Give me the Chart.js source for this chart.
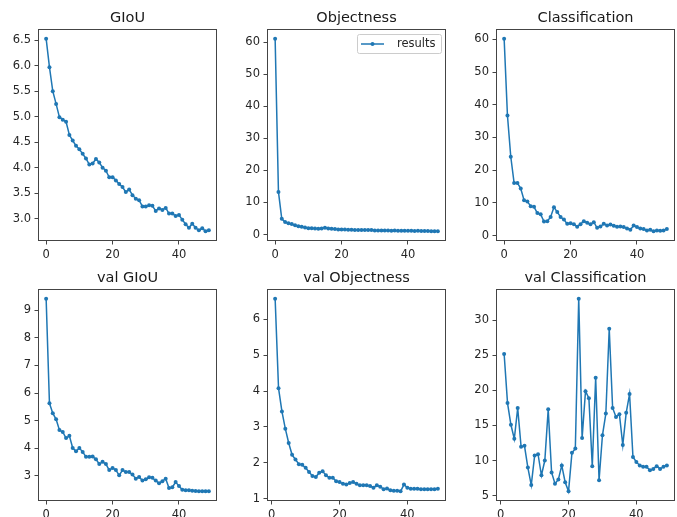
<!DOCTYPE html>
<html><head><meta charset="utf-8">
<script src="https://cdn.jsdelivr.net/npm/chart.js@4"></script>
<style>
html,body{margin:0;padding:0;background:#fff;overflow:hidden;width:677px;height:517px;position:relative}
canvas{position:absolute}
</style></head><body>
<canvas id="c0" width="219" height="262" style="left:0px;top:0px"></canvas>
<canvas id="c1" width="219" height="262" style="left:229px;top:0px"></canvas>
<canvas id="c2" width="219" height="262" style="left:458px;top:0px"></canvas>
<canvas id="c3" width="219" height="262" style="left:0px;top:260px"></canvas>
<canvas id="c4" width="219" height="262" style="left:229px;top:260px"></canvas>
<canvas id="c5" width="219" height="262" style="left:458px;top:260px"></canvas>
<script>
const panelTitles = ['GIoU','Objectness','Classification','val GIoU','val Objectness','val Classification'];
const seriesLabel = 'results';

const trainEpochs = [0,1,2,3,4,5,6,7,8,9,10,11,12,13,14,15,16,17,18,19,20,21,22,23,24,25,26,27,28,29,30,31,32,33,34,35,36,37,38,39,40,41,42,43,44,45,46,47,48,49];
const valEpochs = [1,2,3,4,5,6,7,8,9,10,11,12,13,14,15,16,17,18,19,20,21,22,23,24,25,26,27,28,29,30,31,32,33,34,35,36,37,38,39,40,41,42,43,44,45,46,47,48,49];

const giou = [6.53,5.97,5.50,5.25,4.99,4.94,4.90,4.64,4.53,4.43,
  4.36,4.27,4.18,4.06,4.08,4.17,4.10,4.00,3.94,3.81,
  3.81,3.75,3.68,3.62,3.52,3.57,3.46,3.39,3.36,3.24,
  3.24,3.26,3.25,3.15,3.20,3.17,3.21,3.10,3.10,3.05,
  3.07,2.98,2.89,2.82,2.90,2.82,2.77,2.81,2.75,2.77];
const objectness = [61.1,13.3,4.9,3.9,3.5,3.3,2.9,2.6,2.4,2.2,
  2.0,2.0,1.9,1.8,1.9,2.1,1.9,1.8,1.7,1.6,
  1.6,1.6,1.5,1.5,1.4,1.4,1.4,1.4,1.4,1.4,
  1.3,1.3,1.3,1.3,1.3,1.2,1.3,1.2,1.2,1.2,
  1.2,1.2,1.1,1.2,1.1,1.1,1.1,1.0,1.0,1.0];
const classification = [60.2,36.7,24.1,16.1,16.1,14.4,10.8,10.4,9.0,8.8,
  6.9,6.5,4.3,4.4,5.7,8.7,7.2,5.7,4.9,3.6,
  3.8,3.5,2.7,3.5,4.4,3.9,3.5,4.1,2.4,2.8,
  3.6,3.1,3.4,3.0,2.7,2.8,2.6,2.2,1.8,3.1,
  2.6,2.2,2.0,1.6,1.8,1.3,1.6,1.5,1.6,2.0];
const valGiou = [9.42,5.63,5.27,5.05,4.66,4.59,4.37,4.45,4.01,3.89,
  4.01,3.87,3.69,3.69,3.70,3.60,3.43,3.51,3.43,3.21,
  3.29,3.21,3.02,3.21,3.14,3.14,3.05,2.90,2.96,2.83,
  2.88,2.95,2.93,2.83,2.73,2.81,2.90,2.56,2.59,2.78,
  2.63,2.50,2.48,2.48,2.46,2.45,2.44,2.44,2.44,2.44];
const valObjectness = [6.58,4.08,3.43,2.95,2.55,2.22,2.09,1.96,1.94,1.86,
  1.74,1.63,1.60,1.72,1.76,1.65,1.58,1.58,1.48,1.46,
  1.41,1.39,1.43,1.46,1.41,1.37,1.37,1.37,1.35,1.30,
  1.37,1.33,1.26,1.28,1.23,1.22,1.22,1.20,1.39,1.30,
  1.27,1.27,1.27,1.26,1.26,1.26,1.26,1.26,1.27];
const valClassification = [25.2,18.2,15.1,13.1,17.5,11.95,12.1,9.0,6.5,10.7,
  10.9,7.9,10.0,17.3,8.3,6.7,7.3,9.3,6.9,5.6,
  11.1,11.7,33.1,13.2,19.9,18.9,9.2,21.8,7.2,13.6,
  16.7,28.8,17.5,16.2,16.6,12.2,16.8,19.5,10.5,9.8,
  9.3,9.1,9.1,8.6,8.8,9.2,8.8,9.1,9.3];

const xTicks = ['0','20','40'];
const giouTicks = ['3.0','3.5','4.0','4.5','5.0','5.5','6.0','6.5'];
const objTicks = ['0','10','20','30','40','50','60'];
const clsTicks = ['0','10','20','30','40','50','60'];
const valGiouTicks = ['3','4','5','6','7','8','9'];
const valObjTicks = ['1','2','3','4','5','6'];
const valClsTicks = ['5','10','15','20','25','30'];

const COLOR = '#1f77b4';
const FONT = '"DejaVu Sans", sans-serif';
const TEXT = '#262626';
const AXIS = '#444444';
const TICK_SIZE = 11.5;

const panels = [
  {id:'c0', title:panelTitles[0], x:trainEpochs, y:giou, yt:giouTicks, legend:false},
  {id:'c1', title:panelTitles[1], x:trainEpochs, y:objectness, yt:objTicks, legend:true},
  {id:'c2', title:panelTitles[2], x:trainEpochs, y:classification, yt:clsTicks, legend:false},
  {id:'c3', title:panelTitles[3], x:trainEpochs, y:valGiou, yt:valGiouTicks, legend:false},
  {id:'c4', title:panelTitles[4], x:valEpochs, y:valObjectness, yt:valObjTicks, legend:false},
  {id:'c5', title:panelTitles[5], x:valEpochs, y:valClassification, yt:valClsTicks, legend:false}
];

function limits(arr){
  const mn = Math.min(...arr), mx = Math.max(...arr), r = mx - mn;
  return [mn - 0.05*r, mx + 0.05*r];
}

const framePlugin = {
  id:'frame',
  afterDraw(chart){
    const a = chart.chartArea, ctx = chart.ctx;
    ctx.save();
    ctx.strokeStyle = AXIS; ctx.lineWidth = 1;
    const l = Math.round(a.left)+0.5, t = Math.round(a.top)+0.5;
    const r = Math.round(a.right)-0.5, b = Math.round(a.bottom)-0.5;
    ctx.strokeRect(l, t, r-l, b-t);
    ctx.restore();
  }
};

const legendPlugin = {
  id:'boxLegend',
  afterDraw(chart, args, opts){
    if(!opts.show) return;
    const a = chart.chartArea, ctx = chart.ctx, ds = chart.data.datasets[0];
    ctx.save();
    ctx.font = TICK_SIZE + 'px ' + FONT;
    const tw = ctx.measureText(ds.label).width;
    const w = Math.round(40 + tw + 5), h = 19;
    const x = Math.round(a.right - 5 - w), y = Math.round(a.top + 5);
    ctx.beginPath();
    ctx.roundRect(x+0.5, y+0.5, w, h, 2);
    ctx.fillStyle = 'rgba(255,255,255,0.8)'; ctx.fill();
    ctx.strokeStyle = '#cccccc'; ctx.lineWidth = 1; ctx.stroke();
    const cy = y + h/2 + 0.5;
    ctx.strokeStyle = ds.borderColor; ctx.lineWidth = ds.borderWidth;
    ctx.beginPath(); ctx.moveTo(x+4, cy); ctx.lineTo(x+27, cy); ctx.stroke();
    ctx.fillStyle = ds.borderColor;
    ctx.beginPath(); ctx.arc(x+15.5, cy, ds.pointRadius, 0, 2*Math.PI); ctx.fill();
    ctx.fillStyle = TEXT; ctx.textBaseline = 'middle'; ctx.textAlign = 'left';
    ctx.fillText(ds.label, x+40, cy);
    ctx.restore();
  }
};

panels.forEach(p => {
  const [xmin, xmax] = limits(p.x);
  const [ymin, ymax] = limits(p.y);
  const tickFont = {family: FONT, size: TICK_SIZE};
  new Chart(document.getElementById(p.id), {
    type: 'line',
    data: {datasets: [{
      label: seriesLabel,
      data: p.x.map((v,i) => ({x: v, y: p.y[i]})),
      borderColor: COLOR, backgroundColor: COLOR,
      borderWidth: 1.5, pointRadius: 2, pointHoverRadius: 2,
      pointBackgroundColor: COLOR, pointBorderWidth: 0,
      tension: 0, fill: false
    }]},
    options: {
      responsive: false, animation: false, devicePixelRatio: 1,
      layout: {padding: {left: 0, right: 1, top: 0, bottom: 0}},
      plugins: {
        legend: {display: false},
        tooltip: {enabled: false},
        title: {display: true, text: p.title, fullSize: false, color: '#1a1a1a',
          font: {family: FONT, size: 14.5, weight: 'normal', lineHeight: 1.2},
          padding: {top: 10, bottom: 1.6}},
        boxLegend: {show: p.legend}
      },
      scales: {
        x: {
          type: 'linear', min: xmin, max: xmax,
          afterBuildTicks: s => { s.ticks = xTicks.map(t => ({value: parseFloat(t)})); },
          afterFit: s => { s.height = 21; },
          ticks: {callback: (v,i) => xTicks[i], font: tickFont, color: TEXT, padding: 3.5, maxRotation: 0, autoSkip: false},
          grid: {display: true, drawOnChartArea: false, drawTicks: true, tickLength: 3.5, color: AXIS, tickColor: AXIS},
          border: {display: false}
        },
        y: {
          type: 'linear', min: ymin, max: ymax,
          afterBuildTicks: s => { s.ticks = p.yt.map(t => ({value: parseFloat(t)})); },
          afterFit: s => { s.width = 38; },
          ticks: {callback: (v,i) => p.yt[i], font: tickFont, color: TEXT, padding: 3.5, autoSkip: false},
          grid: {display: true, drawOnChartArea: false, drawTicks: true, tickLength: 3.5, color: AXIS, tickColor: AXIS},
          border: {display: false}
        }
      }
    },
    plugins: [framePlugin, legendPlugin]
  });
});
</script>
</body></html>
